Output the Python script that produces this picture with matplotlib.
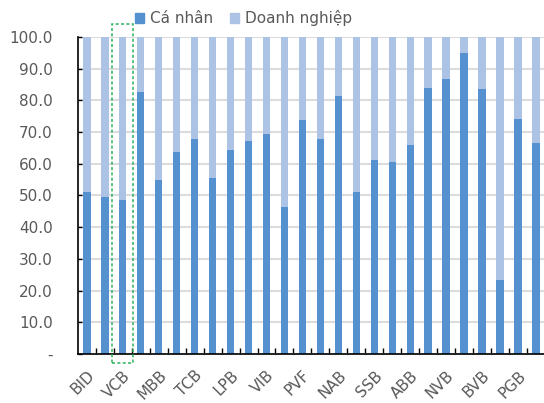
import matplotlib.pyplot as plt
import numpy as np
from matplotlib.patches import Patch, Rectangle

plt.switch_backend("Agg")

# every other category is labelled on the axis, like the source chart
BANKS = [
    "BID", "", "VCB", "", "MBB", "", "TCB", "", "LPB", "", "VIB", "", "PVF",
    "", "NAB", "", "SSB", "", "ABB", "", "NVB", "", "BVB", "", "PGB", "",
]
CA_NHAN = [
    51.0, 49.5, 48.5, 82.6, 55.0, 63.7, 67.9, 55.6, 64.4, 67.2, 69.4, 46.3, 73.8,
    67.8, 81.4, 51.1, 61.1, 60.6, 66.0, 83.9, 86.7, 95.0, 83.6, 23.3, 74.2, 66.5,
]
DOANH_NGHIEP = [100.0 - v for v in CA_NHAN]
HIGHLIGHT = "VCB"

DARK = "#5591CF"
LIGHT = "#ADC3E6"
TEXT = "#595959"
GRID = "#DCDCDC"


def main() -> None:
    fig = plt.figure(figsize=(5.44, 4.03), dpi=100)
    ax = fig.add_axes([0.143, 0.1216, 0.859, 0.7866])

    x = np.arange(len(BANKS))
    width = 0.42
    ax.bar(x, CA_NHAN, width, color=DARK, zorder=3)
    ax.bar(x, DOANH_NGHIEP, width, bottom=CA_NHAN, color=LIGHT, zorder=3)

    ax.set_xlim(-0.5, len(BANKS) - 0.5)
    ax.set_ylim(0, 100)
    ax.set_yticks(np.arange(0, 101, 10))
    ax.set_yticklabels(["-"] + [f"{v:.1f}" for v in range(10, 101, 10)])
    ax.yaxis.grid(True, color=GRID, linewidth=1.5, zorder=0)

    shown = [i for i, b in enumerate(BANKS) if b]
    ax.set_xticks(shown)
    ax.set_xticklabels([BANKS[i] for i in shown], rotation=45, ha="right",
                       rotation_mode="anchor")
    ax.set_xticks(np.arange(0.5, len(BANKS) - 0.5), minor=True)
    ax.tick_params(axis="x", which="major", length=0, pad=10, labelsize=11, labelcolor=TEXT)
    ax.tick_params(axis="x", which="minor", direction="in", length=4, width=1)
    ax.tick_params(axis="y", direction="in", length=3, width=1, labelsize=11,
                   labelcolor=TEXT, pad=18)

    for side in ("top", "right"):
        ax.spines[side].set_visible(False)
    ax.spines["left"].set_linewidth(1.2)
    ax.spines["bottom"].set_linewidth(1.2)
    ax.spines["left"].set_zorder(4)
    ax.spines["bottom"].set_zorder(4)

    i = BANKS.index(HIGHLIGHT)
    box = Rectangle((i - 0.58, -2.9), 1.16, 106.9, fill=False, edgecolor="#2DB35E",
                    linestyle=(0, (2, 1.5)), linewidth=1.1, clip_on=False, zorder=5)
    ax.add_patch(box)

    handles = [Patch(color=DARK, label="Cá nhân"), Patch(color=LIGHT, label="Doanh nghiệp")]
    fig.legend(handles=handles, loc="center", bbox_to_anchor=(0.448, 0.955), ncol=2,
               frameon=False, fontsize=11, labelcolor=TEXT, handlelength=0.6,
               handleheight=0.6, handletextpad=0.4, columnspacing=1.1, borderpad=0)

    fig.savefig("out.png", dpi=100)
    plt.close(fig)


if __name__ == "__main__":
    main()
